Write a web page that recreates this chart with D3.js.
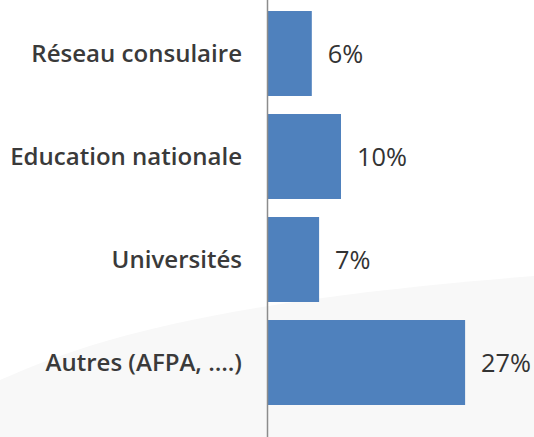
<!DOCTYPE html>
<html><head><meta charset="utf-8">
<script src="https://cdn.jsdelivr.net/npm/d3@7"></script>
<style>html,body{margin:0;padding:0;background:#fff}</style>
</head><body>
<svg id="c" width="534" height="437"></svg>
<script>
const categories = ["Réseau consulaire", "Education nationale", "Universités", "Autres (AFPA, ….)"];
const values = [6, 10, 7, 27];
const valueLabels = ["6%", "10%", "7%", "27%"];

const svg = d3.select("#c");
svg.append("rect").attr("width",534).attr("height",437).attr("fill","#ffffff");
svg.append("path")
  .attr("d","M0,380 C100,335 230,300 534,276 L534,437 L0,437 Z")
  .attr("fill","#f8f8f8");

const x = d3.scaleLinear().domain([0,30]).range([268,487]);
const y = d3.scaleBand().domain(categories).range([2,414]).paddingInner(0.175).paddingOuter(0.0875);

svg.selectAll("rect.bar").data(categories).enter().append("rect")
  .attr("class","bar")
  .attr("x", x(0))
  .attr("y", d=>y(d))
  .attr("width", (d,i)=>x(values[i])-x(0))
  .attr("height", y.bandwidth())
  .attr("fill","#4f81bd");

svg.append("line").attr("x1",x(0)-0.5).attr("x2",x(0)-0.5).attr("y1",0).attr("y2",437)
  .attr("stroke","#8c8c8c").attr("stroke-width",1.5);

const font = "'Open Sans', Lato, sans-serif";
const cats = svg.selectAll("text.cat").data(categories).enter().append("text")
  .attr("class","cat")
  .attr("x", 242)
  .attr("y", d=>y(d)+y.bandwidth()/2)
  .attr("dy","0.36em")
  .attr("text-anchor","end")
  .attr("font-family",font)
  .attr("font-weight","600")
  .attr("font-size",22)
  .attr("fill","#3a3a3a")
  .text(d=>d);
// fit font so that the longest label matches target width
const w = cats.nodes()[1].getComputedTextLength();
cats.attr("font-size", 22*232/w);

const vals = svg.selectAll("text.val").data(categories).enter().append("text")
  .attr("class","val")
  .attr("x", (d,i)=>x(values[i])+16)
  .attr("y", d=>y(d)+y.bandwidth()/2)
  .attr("dy","0.36em")
  .attr("font-family",font)
  .attr("font-size",22)
  .attr("fill","#333")
  .text((d,i)=>valueLabels[i]);
const vw = vals.nodes()[3].getComputedTextLength();
vals.attr("font-size", 22*50/vw);
</script>
</body></html>
